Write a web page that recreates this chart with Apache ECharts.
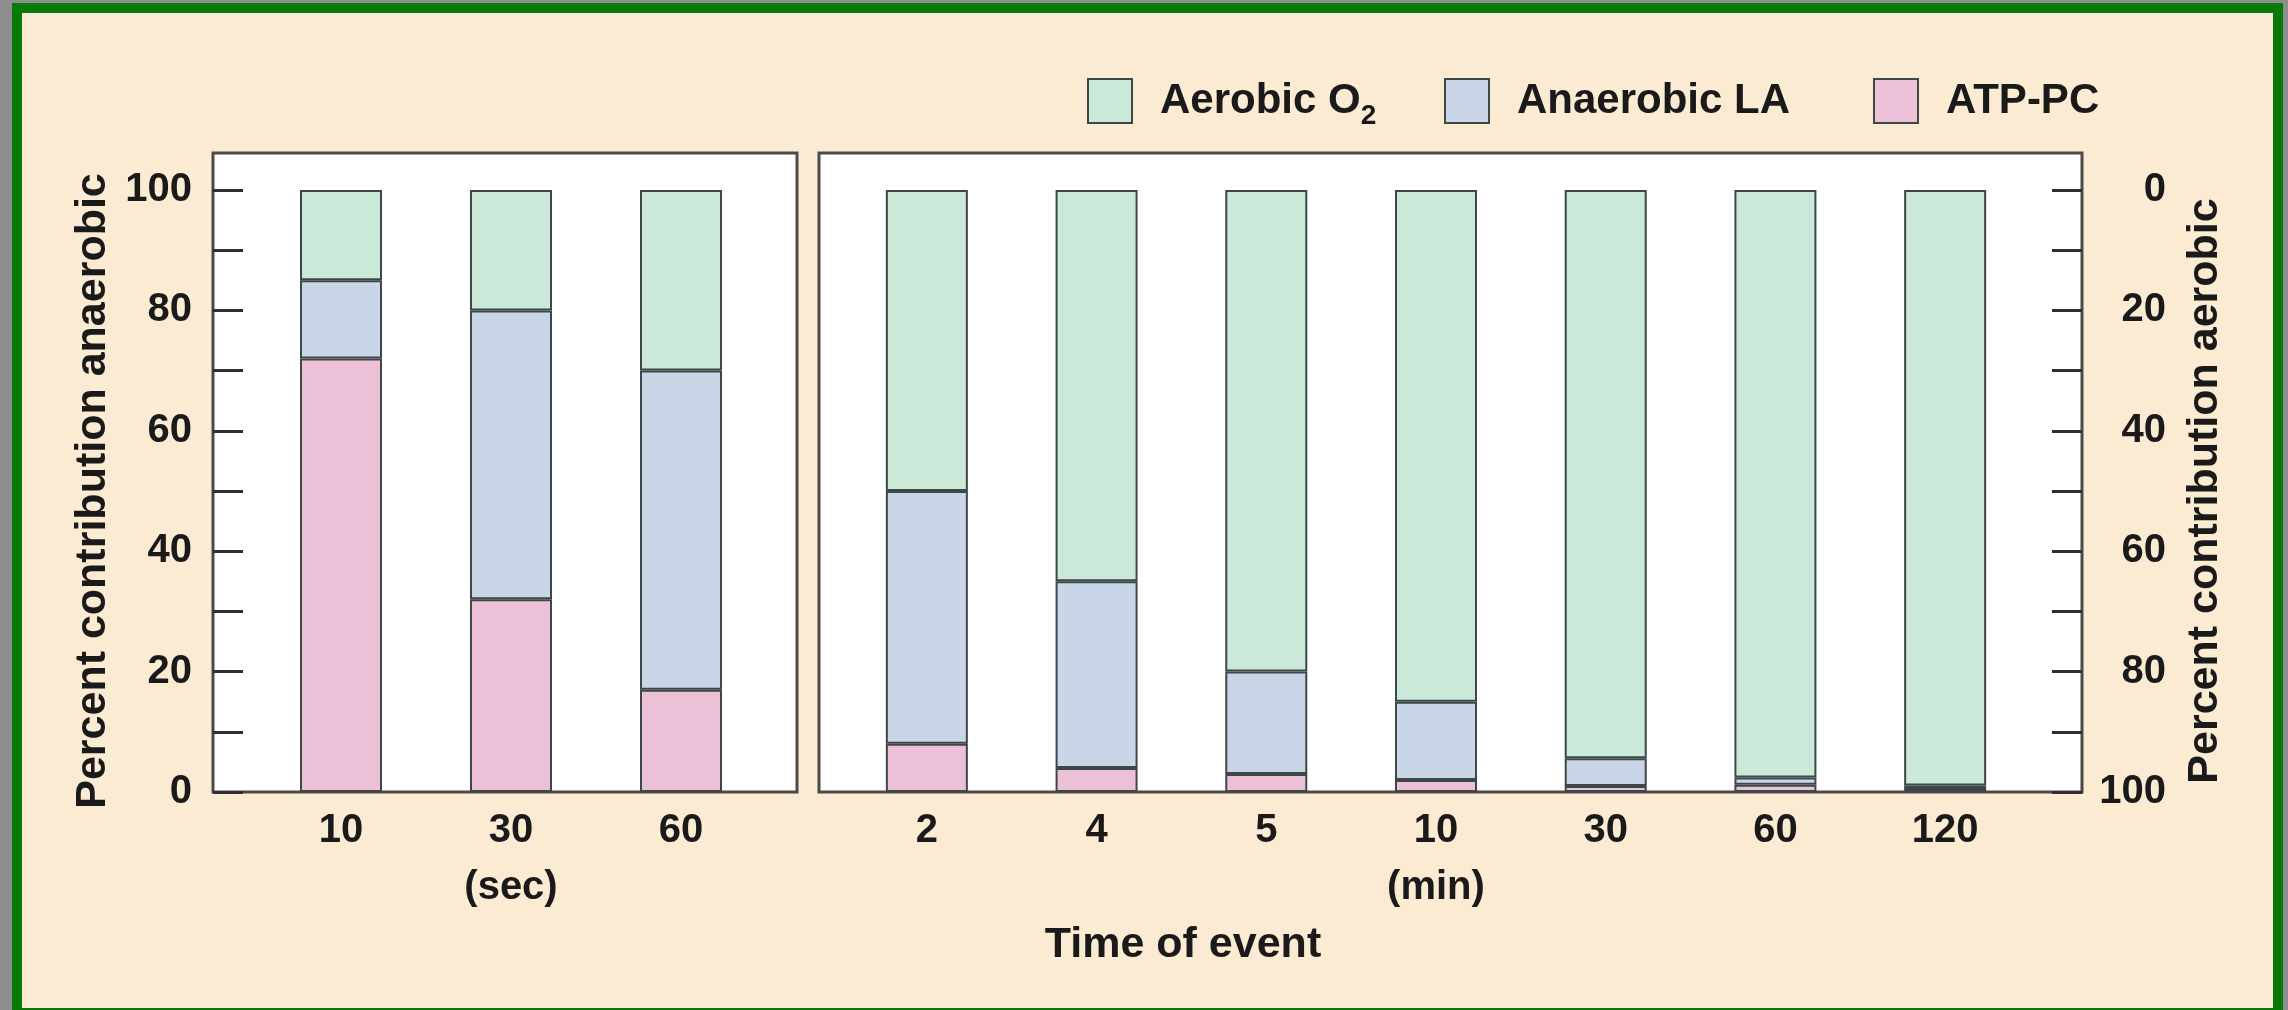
<!DOCTYPE html>
<html>
<head>
<meta charset="utf-8">
<script src="https://cdn.jsdelivr.net/npm/echarts@6/dist/echarts.min.js"></script>
<style>
html, body { margin: 0; padding: 0; width: 2288px; height: 1010px; overflow: hidden; background: #8e8e8e; }
#frame { position: absolute; left: 12px; top: 3px; width: 2271px; height: 1015px; box-sizing: border-box; border: 10px solid #087a08; background: #fcebd3; }
#chart { position: absolute; left: 0; top: 0; width: 2288px; height: 1010px; }
</style>
</head>
<body>
<div id="frame"></div>
<div id="chart"></div>
<script>
// categories (time of event)
var secCats = ["10", "30", "60"];
var minCats = ["2", "4", "5", "10", "30", "60", "120"];
var secUnit = "(sec)";
var minUnit = "(min)";

// percent contribution, seconds panel
var secATP = [72, 32, 17];
var secLA  = [13, 48, 53];
var secO2  = [15, 20, 30];

// percent contribution, minutes panel
var minATP = [8, 4, 3, 2, 1, 1.2, 0.5];
var minLA  = [42, 31, 17, 13, 4.6, 1.2, 0.6];
var minO2  = [50, 65, 80, 85, 94.4, 97.6, 98.9];

var seriesNames = ["Aerobic O2", "Anaerobic LA", "ATP-PC"];
var yTicks = [0, 100];

var font = "'Liberation Sans', Arial, Helvetica, sans-serif",
	ink = "#1a1a1a",
	edge = "#3e4747",
	colors = {
		"Aerobic O2": "#cbe9d9",
		"Anaerobic LA": "#c8d6e7",
		"ATP-PC": "#ecc1d8"
	};

var chart = echarts.init(document.getElementById("chart"), null, { renderer: "canvas" });

function barSeries(name, data, axis)
{
	return {
		name: name,
		type: "bar",
		stack: "s" + axis,
		xAxisIndex: axis,
		yAxisIndex: axis,
		barWidth: 82,
		itemStyle: {
			color: colors[name],
			borderColor: edge,
			borderWidth: 2
		},
		emphasis: { disabled: true },
		data: data
	};
}

function catAxis(grid, cats, unitIdx, unit)
{
	return {
		type: "category",
		gridIndex: grid,
		data: cats,
		axisLine: { show: false },
		axisTick: { show: false },
		axisLabel: {
			margin: 10,
			fontSize: 40,
			fontWeight: "bold",
			fontFamily: font,
			color: ink,
			lineHeight: 57,
			formatter: function(v, i) {
				return i === unitIdx ? v + "\n" + unit : v;
			}
		}
	};
}

function valAxis(grid, pos, opts)
{
	var ax = {
		type: "value",
		gridIndex: grid,
		position: pos,
		min: yTicks[0],
		max: yTicks[1],
		interval: 20,
		splitLine: { show: false },
		axisLine: { show: false },
		axisTick: {
			show: true,
			inside: true,
			length: 30,
			lineStyle: { color: "#2e2e2e", width: 3 }
		},
		minorTick: {
			show: true,
			splitNumber: 2,
			length: 30,
			lineStyle: { color: "#2e2e2e", width: 3 }
		},
		axisLabel: {
			fontSize: 40,
			fontWeight: "bold",
			fontFamily: font,
			color: ink
		},
		nameLocation: "middle",
		nameRotate: 90,
		nameTextStyle: {
			fontSize: 43,
			fontWeight: "bold",
			fontFamily: font,
			color: ink
		}
	};
	return echarts.util.merge(ax, opts || {}, true);
}

function legendItem(name, left)
{
	return {
		data: [name],
		left: left,
		top: 73,
		icon: "rect",
		itemWidth: 44,
		itemHeight: 44,
		selectedMode: false,
		itemStyle: { borderColor: edge, borderWidth: 2 },
		formatter: function(n) {
			if (n === "Aerobic O2") return "{g|}{b|Aerobic O}{s|2}";
			return "{g|}{b|" + n + "}";
		},
		textStyle: {
			color: ink,
			fontFamily: font,
			rich: {
				g: { width: 23 },
				b: { fontSize: 42, fontWeight: "bold", fontFamily: font, color: ink },
				s: { fontSize: 28, fontWeight: "bold", fontFamily: font, color: ink, padding: [30, 0, 0, 0] }
			}
		}
	};
}

var opt = {
	backgroundColor: "transparent",
	animation: false,
	legend: [
		legendItem(seriesNames[0], 1082),
		legendItem(seriesNames[1], 1439),
		legendItem(seriesNames[2], 1868)
	],
	grid: [
		{ left: 256, top: 190, width: 510, height: 602 },
		{ left: 842, top: 190, width: 1188, height: 602 }
	],
	xAxis: [
		catAxis(0, secCats, 1, secUnit),
		catAxis(1, minCats, 3, minUnit)
	],
	yAxis: [
		valAxis(0, "left", {
			offset: 43,
			name: "Percent contribution anaerobic",
			nameGap: 98,
			axisLabel: { margin: 21 }
		}),
		{ type: "value", gridIndex: 1, min: yTicks[0], max: yTicks[1], show: false },
		valAxis(1, "right", {
			offset: 52,
			inverse: true,
			name: "Percent contribution aerobic",
			nameGap: 102,
			axisLabel: { margin: 84, align: "right" }
		})
	],
	series: [
		barSeries("ATP-PC", secATP, 0),
		barSeries("Anaerobic LA", secLA, 0),
		barSeries("Aerobic O2", secO2, 0),
		barSeries("ATP-PC", minATP, 1),
		barSeries("Anaerobic LA", minLA, 1),
		barSeries("Aerobic O2", minO2, 1)
	],
	graphic: [
		{
			type: "rect",
			z: -10,
			shape: { x: 213, y: 153, width: 584, height: 639 },
			style: { fill: "#ffffff", stroke: "#4d4946", lineWidth: 3 }
		},
		{
			type: "rect",
			z: -10,
			shape: { x: 819, y: 153, width: 1263, height: 639 },
			style: { fill: "#ffffff", stroke: "#4d4946", lineWidth: 3 }
		},
		{
			type: "text",
			x: 1183,
			y: 945,
			style: {
				text: "Time of event",
				fontSize: 43,
				fontWeight: "bold",
				fontFamily: font,
				fill: ink,
				align: "center",
				verticalAlign: "middle"
			}
		}
	]
};

chart.setOption(opt);
</script>
</body>
</html>
